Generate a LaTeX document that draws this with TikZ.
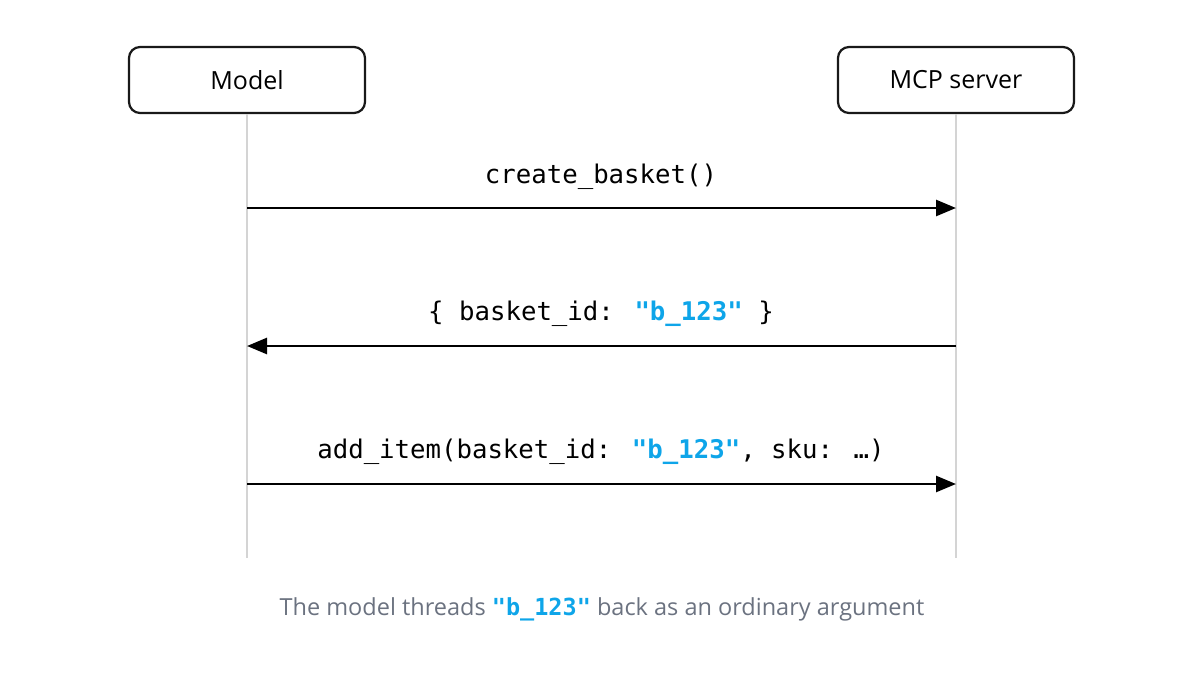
\documentclass[tikz,border=0pt]{standalone}
\usepackage{fontspec}
\setmainfont{Open Sans}
\newfontfamily\monof{DejaVu Sans Mono}
\usetikzlibrary{arrows.meta}
\definecolor{hl}{HTML}{0EA5E9}
\definecolor{capg}{HTML}{6B7280}
\definecolor{lifeg}{HTML}{D4D4D4}
\begin{document}
\begin{tikzpicture}[x=1pt,y=-1pt,
  actor/.style={draw=black!90,line width=2.2pt,rounded corners=11pt,minimum width=236pt,minimum height=66pt,font=\fontsize{25}{29}\selectfont,fill=white},
  life/.style={lifeg,line width=2.6pt},
  msg/.style={line width=2.6pt,-{Triangle[length=20pt,width=16pt]}},
  lbl/.style={font=\monof\fontsize{25.7}{30}\selectfont},
  hlt/.style={}]
\useasboundingbox (0,0) rectangle (1195,686);
\node[actor] (m) at (247,80) {Model};
\node[actor] (s) at (956,80) {MCP server};
\coordinate (me) at (247,558);
\coordinate (se) at (956,558);
\draw[life] (m.south) -- (me);
\draw[life] (s.south) -- (se);
\coordinate (a1) at (247,208); \coordinate (b1) at (956,208);
\coordinate (a2) at (247,346); \coordinate (b2) at (956,346);
\coordinate (a3) at (247,484); \coordinate (b3) at (956,484);
\draw[msg] (a1) -- (b1);
\draw[msg] (b2) -- (a2);
\draw[msg] (a3) -- (b3);
\node[lbl] (l1) at (601,177) {create\_basket()};
\node[lbl] (l2) at (601,314) {\{ basket\_id: {\color{hl}\bfseries"b\_123"} \}};
\node[lbl] (l3) at (601,452) {add\_item(basket\_id: {\color{hl}\bfseries"b\_123"}, sku: …)};
\node[font=\fontsize{23.5}{27}\selectfont,text=capg] (c) at (602,609) {The model threads {\monof\bfseries\color{hl}"b\_123"} back as an ordinary argument};
\end{tikzpicture}
\end{document}
